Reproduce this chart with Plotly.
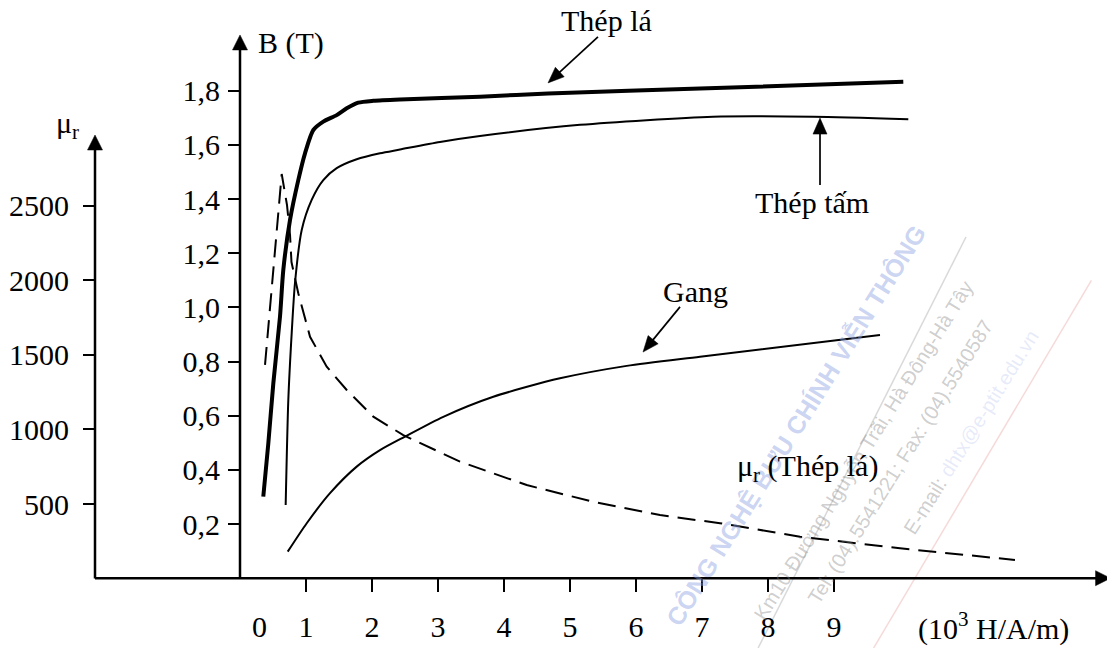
import math
import plotly.graph_objects as go

# ---------------- data ----------------
# Thép lá : B(H)
H_THEP_LA = [0.353, 0.429, 0.505, 0.606, 0.656, 0.758, 0.883, 0.985, 1.111, 1.262,
             1.465, 1.617, 1.792, 2.020, 2.424, 3.636, 4.667, 6.970, 10.050]
B_THEP_LA = [0.301, 0.498, 0.720, 0.966, 1.138, 1.323, 1.470, 1.569, 1.655, 1.686,
             1.710, 1.735, 1.756, 1.763, 1.768, 1.778, 1.790, 1.808, 1.833]

# Thép tấm : B(H)
H_THEP_TAM = [0.692, 0.732, 0.783, 0.833, 0.935, 1.086, 1.262, 1.465, 1.768, 2.121,
              2.424, 3.030, 3.636, 5.152, 7.167, 8.686, 10.126]
B_THEP_TAM = [0.270, 0.658, 0.904, 1.090, 1.286, 1.397, 1.470, 1.514, 1.547, 1.569,
              1.583, 1.611, 1.633, 1.674, 1.704, 1.704, 1.695]

# Gang : B(H)
H_GANG = [0.723, 1.011, 1.364, 1.768, 2.121, 2.500, 3.080, 3.838, 4.848, 5.859, 6.970, 9.697]
B_GANG = [0.098, 0.203, 0.314, 0.412, 0.473, 0.523, 0.596, 0.670, 0.738, 0.784, 0.818, 0.898]

# mu_r (Thép lá)
H_MU = [0.379, 0.520, 0.632, 0.712, 0.758, 0.780, 0.883, 1.061, 1.314, 1.617, 2.020,
        2.474, 3.333, 4.344, 5.353, 6.364, 7.273, 8.485, 10.000, 11.742]
MU_R = [1432, 2158, 2712, 2504, 2303, 2122, 1912, 1621, 1420, 1264, 1085,
        962, 784, 627, 515, 426, 371, 281, 203, 125]

# axis ticks
H_TICKS = [1, 2, 3, 4, 5, 6, 7, 8, 9]
H_TICK_TEXT = ["1", "2", "3", "4", "5", "6", "7", "8", "9"]
B_TICKS = [0.2, 0.4, 0.6, 0.8, 1.0, 1.2, 1.4, 1.6, 1.8]
B_TICK_TEXT = ["0,2", "0,4", "0,6", "0,8", "1,0", "1,2", "1,4", "1,6", "1,8"]
MU_TICKS = [500, 1000, 1500, 2000, 2500]
MU_TICK_TEXT = ["500", "1000", "1500", "2000", "2500"]

# ---------------- styling ----------------
FONT = "Liberation Serif, Times New Roman, serif"
FS = 30
BLACK = "#000000"

W, Hh = 1107, 648
X_RANGE = [-3.6364, 13.1364]
B_RANGE = [-0.2578, 2.1351]
MU_RANGE = [-465.1, 3878.0]
# pixels per data unit (canvas == plot area)
PX_X = W / (X_RANGE[1] - X_RANGE[0])
PX_B = Hh / (B_RANGE[1] - B_RANGE[0])
PX_MU = Hh / (MU_RANGE[1] - MU_RANGE[0])

fig = go.Figure()

# ---- faint watermark (underneath) ----
WM_ANGLE = -58
fig.add_shape(type="line", xref="x", yref="y", x0=7.85, y0=-0.258, x1=11.0, y1=1.26,
              line=dict(color="rgba(170,170,170,0.45)", width=1.5), layer="below")
fig.add_shape(type="line", xref="x", yref="y", x0=9.6, y0=-0.258, x1=12.9, y1=1.10,
              line=dict(color="rgba(235,170,170,0.45)", width=1.5), layer="below")

def wm(text, x, y, color, size, bold=False):
    fig.add_annotation(x=x, y=y, xref="x", yref="y", text=(f"<b>{text}</b>" if bold else text),
                       showarrow=False, textangle=WM_ANGLE,
                       font=dict(family="Liberation Sans, Arial, sans-serif", size=size, color=color))

wm("CÔNG NGHỆ BƯU CHÍNH VIỄN THÔNG", 8.41, 0.565, "rgba(140,160,225,0.45)", 25, bold=True)
wm("Km10 Đường Nguyễn Trãi, Hà Đông-Hà Tây", 9.44, 0.47, "rgba(130,130,130,0.40)", 20)
wm("Tel: (04).5541221; Fax: (04).5540587", 10.0, 0.43, "rgba(130,130,130,0.40)", 20)
wm("E-mail: <span style='color:rgba(130,150,225,0.5)'>dhtx@e-ptit.edu.vn</span>",
   11.08, 0.54, "rgba(130,130,130,0.40)", 20)

# ---- curves ----
fig.add_trace(go.Scatter(x=H_THEP_LA, y=B_THEP_LA, mode="lines", name="Thép lá",
                         line=dict(color=BLACK, width=4, shape="spline", smoothing=0.7),
                         hoverinfo="skip", showlegend=False))
fig.add_trace(go.Scatter(x=H_THEP_TAM, y=B_THEP_TAM, mode="lines", name="Thép tấm",
                         line=dict(color=BLACK, width=2, shape="spline", smoothing=0.7),
                         hoverinfo="skip", showlegend=False))
fig.add_trace(go.Scatter(x=H_GANG, y=B_GANG, mode="lines", name="Gang",
                         line=dict(color=BLACK, width=2, shape="spline", smoothing=0.7),
                         hoverinfo="skip", showlegend=False))
fig.add_trace(go.Scatter(x=H_MU, y=MU_R, mode="lines", name="μr (Thép lá)", yaxis="y2",
                         line=dict(color=BLACK, width=2, dash="18px,9px"),
                         hoverinfo="skip", showlegend=False))

# ---- arrows (axis lines and label pointers) as shapes ----
def arrow(tail, tip, yref="y", width=2.5, length=15, head_w=15):
    py = PX_B if yref == "y" else PX_MU
    dx = (tip[0] - tail[0]) * PX_X
    dy = (tip[1] - tail[1]) * py
    n = math.hypot(dx, dy)
    ux, uy = dx / n, dy / n
    # line stops inside the head
    end = (tip[0] - 0.6 * length * ux / PX_X, tip[1] - 0.6 * length * uy / py)
    fig.add_shape(type="line", xref="x", yref=yref, x0=tail[0], y0=tail[1], x1=end[0], y1=end[1],
                  line=dict(color=BLACK, width=width))
    bx, by = -length * ux, -length * uy
    nx, ny = -uy * head_w / 2, ux * head_w / 2
    path = (f"M0,0 L{bx + nx:.2f},{by + ny:.2f} L{bx - nx:.2f},{by - ny:.2f} Z")
    fig.add_shape(type="path", xref="x", yref=yref, xsizemode="pixel", ysizemode="pixel",
                  xanchor=tip[0], yanchor=tip[1], path=path,
                  fillcolor=BLACK, line=dict(color=BLACK, width=0.5))

arrow((-2.197, 0), (13.19, 0))                     # H axis
arrow((0, 0), (0, 2.006))                          # B axis
arrow((-2.197, 0), (-2.197, 2973), yref="y2")      # mu_r axis
arrow((5.424, 1.999), (4.667, 1.829), width=1.7, length=16, head_w=13)  # Thép lá
arrow((8.788, 1.452), (8.788, 1.699), width=1.7, length=16, head_w=14)  # Thép tấm
arrow((6.667, 1.002), (6.106, 0.835), width=1.7, length=16, head_w=13)  # Gang

tickfont = dict(family=FONT, size=FS, color=BLACK)
fig.update_layout(
    width=W, height=Hh,
    margin=dict(l=0, r=0, t=0, b=0),
    paper_bgcolor="white", plot_bgcolor="white",
    showlegend=False,
    xaxis=dict(range=X_RANGE, anchor="free", position=70 / 648, side="bottom",
               showline=False, showgrid=False, zeroline=False,
               ticks="outside", ticklen=13, tickwidth=2, tickcolor=BLACK,
               tickvals=H_TICKS, ticktext=H_TICK_TEXT, tickfont=tickfont,
               ticklabelstandoff=9),
    yaxis=dict(range=B_RANGE, domain=[0, 1], anchor="free", position=240 / 1107, side="left",
               showline=False, showgrid=False, zeroline=False,
               ticks="outside", ticklen=12, tickwidth=2, tickcolor=BLACK,
               tickvals=B_TICKS, ticktext=B_TICK_TEXT, tickfont=tickfont,
               ticklabelstandoff=2),
    yaxis2=dict(range=MU_RANGE, overlaying="y", anchor="free", position=95 / 1107, side="left",
                showline=False, showgrid=False, zeroline=False,
                ticks="outside", ticklen=12, tickwidth=2, tickcolor=BLACK,
                tickvals=MU_TICKS, ticktext=MU_TICK_TEXT, tickfont=tickfont,
                ticklabelstandoff=8),
)

def label(text, x, y, xanchor="center", yanchor="middle", size=FS):
    fig.add_annotation(x=x, y=y, xref="x", yref="y", text=text, showarrow=False,
                       xanchor=xanchor, yanchor=yanchor,
                       font=dict(family=FONT, size=size, color=BLACK))

label("B (T)", 0.242, 1.976, xanchor="left")
label("μ<sub>r</sub>", -2.62, 1.673)
label("Thép lá", 5.553, 2.058)
label("Thép tấm", 8.674, 1.386)
label("Gang", 6.902, 1.057)
label("μ<sub>r</sub> (Thép lá)", 8.606, 0.407)
label("(10<sup>3</sup> H/A/m)", 11.424, -0.177)
label("0", 0.295, -0.177)

fig.write_html("out.html", config={"displayModeBar": False},
               post_script="document.body.style.margin='0px';")
